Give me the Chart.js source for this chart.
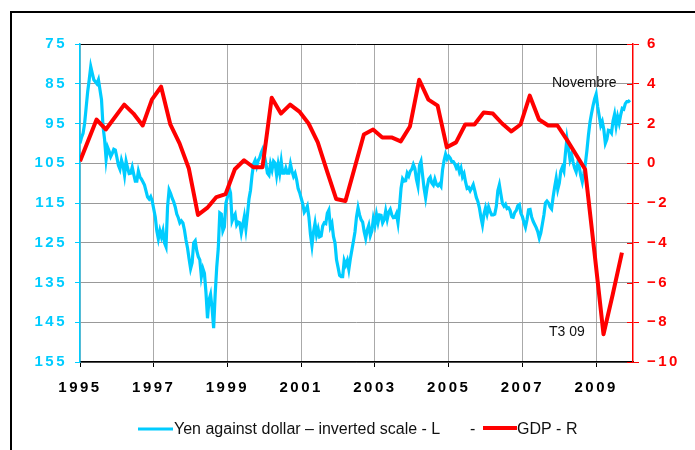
<!DOCTYPE html>
<html>
<head>
<meta charset="utf-8">
<script src="https://cdn.jsdelivr.net/npm/chart.js@4.4.0/dist/chart.umd.min.js"></script>
<style>
  html, body { margin: 0; padding: 0; background: #fff; }
</style>
</head>
<body>
<canvas id="yenChart" width="695" height="450"></canvas>
<script>
// tick labels
const yearTicks = [1995, 1997, 1999, 2001, 2003, 2005, 2007, 2009];
const yenTicks = [75, 85, 95, 105, 115, 125, 135, 145, 155];
const gdpTicks = [-10, -8, -6, -4, -2, 0, 2, 4, 6];

// yen per dollar, twice a month from Jan 1995
const yenStart = 1995;
const yenPerYear = 24;
const yenValues = [
  100, 98.5, 97.5, 95, 91, 87, 84, 80.7, 82.4, 84, 84.5, 85, 84, 86.5, 89, 95.8, 99, 104, 101, 102, 103.3, 102.5, 101.5, 101.7,
  103.5, 105.5, 106.5, 104.2, 105.5, 108, 104.5, 106.2, 107.6, 107.5, 106, 107.8, 109.5, 109.5, 107, 108.4, 109, 109.7, 110.5, 112, 113.5, 114, 113.4, 114.5,
  116.5, 118.5, 122, 124, 122, 123.5, 122, 125, 126, 116, 111.7, 112.6, 113.8, 114.7, 116, 117.8, 118.7, 120, 119.5, 120, 121.8, 124.3, 126.3, 129,
  131.5, 130, 125, 124.5, 127, 128.5, 129.3, 133.5, 131.5, 132.7, 137.5, 144, 139.4, 138, 141.5, 146.5, 138, 131.2, 126.5, 117.5, 117.8, 122, 121, 115,
  113.5, 111, 112.5, 119.5, 118.5, 117.8, 120.5, 119.8, 120, 122.5, 120.5, 118.4, 121.5, 118, 114, 111.8, 108, 105.2, 104.3, 105.8, 104.3, 103.6, 102.3, 101.4,
  103, 105, 107.5, 108, 105.2, 106.7, 104.5, 105, 108, 105.3, 107.5, 104.5, 107.5, 107.5, 106.2, 107.5, 107.5, 105.2, 107, 108.3, 107.5, 109.1, 111.4, 112.4,
  113.8, 115.2, 117.3, 116.7, 115.8, 118.5, 122.8, 125.7, 122.3, 120.1, 123, 121.5, 123.5, 123.3, 120.8, 120, 120.2, 117.6, 116.8, 121, 120.1, 123.4, 125, 129.3,
  131.2, 133.2, 133.5, 133.5, 129.5, 130.6, 129.5, 131.7, 129, 126.8, 124.6, 122.3, 118.5, 116.2, 118, 119.2, 119.8, 122.2, 123.9, 121.8, 120.6, 123.2, 122, 118.9,
  120.5, 117.9, 119.9, 118, 118.1, 120, 119.2, 117, 119.1, 117.3, 116.6, 118, 118.7, 118.6, 117.7, 120, 116, 111.3, 108.9, 109.5, 109.4, 107.5, 108.2, 107,
  106.5, 105.3, 106.3, 109, 110.7, 105.5, 104.5, 108, 111.3, 113.7, 111, 109, 108.5, 110, 110.5, 109, 110.3, 110.7, 110.2, 110.8, 106.7, 104.3, 102.7, 103.9,
  103.2, 103.7, 104.6, 104.6, 105.2, 106.2, 105.6, 107.2, 106.2, 108.4, 107.6, 109.7, 111.3, 111.1, 111.9, 111.2, 110.4, 111.9, 113.6, 114.6, 116.2, 118.6, 120.5, 117.8,
  116.2, 117.8, 116, 117.1, 118, 118, 117.8, 115.9, 111.9, 110.4, 112.8, 115.1, 115.8, 115.3, 116.4, 116.2, 116.9, 118.5, 118.6, 117.4, 116.9, 115.7, 115.4, 117.6,
  118.4, 119.9, 121.1, 119.2, 116.7, 116.6, 118.5, 119.6, 120.4, 121.2, 122.2, 123.8, 122.5, 120.3, 118, 115, 114.5, 115, 116, 116.5, 113.5, 111, 108.8, 111.6,
  110, 107, 106, 107, 102.5, 98.8, 101.3, 104.1, 102.8, 104.7, 106.2, 107.2, 105.1, 105.9, 108.1, 109.7, 107.6, 105.1, 101.8, 97.9, 94.7, 92.5, 90.5, 88.8,
  87.6, 90.8, 93.1, 95.5, 94.5, 96.5, 100, 99, 96.7, 96.8, 97.4, 94.4, 92.7, 95.6, 93.3, 94.9, 92.8, 91.2, 91.4, 90, 89.5, 89.5, 89.1
];

// GDP growth, % year on year, by quarter
const gdpDates = [
  1995.0, 1995.45, 1995.7, 1996.2, 1996.45, 1996.7, 1996.95,
  1997.2, 1997.45, 1997.7, 1997.95, 1998.2, 1998.45, 1998.7, 1998.95,
  1999.2, 1999.45, 1999.7, 1999.95, 2000.2, 2000.45, 2000.7, 2000.95,
  2001.2, 2001.45, 2001.7, 2001.95, 2002.2, 2002.7, 2002.95,
  2003.2, 2003.45, 2003.7, 2003.95, 2004.2, 2004.45, 2004.7, 2004.95,
  2005.2, 2005.45, 2005.7, 2005.95, 2006.2, 2006.45, 2006.7, 2006.95,
  2007.2, 2007.45, 2007.7, 2007.95, 2008.2, 2008.45, 2008.7, 2008.95,
  2009.2, 2009.45, 2009.7
];
const gdpValues = [
  0.1, 2.2, 1.7, 2.95, 2.5, 1.9, 3.2,
  3.85, 1.95, 1.0, -0.25, -2.6, -2.25, -1.7, -1.55,
  -0.3, 0.15, -0.2, -0.2, 3.3, 2.5, 2.95, 2.6,
  2.0, 1.05, -0.4, -1.8, -1.9, 1.45, 1.7,
  1.3, 1.3, 1.1, 1.85, 4.2, 3.2, 2.9, 0.8,
  1.05, 1.95, 1.95, 2.55, 2.5, 2.0, 1.6, 1.95,
  3.4, 2.2, 1.9, 1.9, 1.2, 0.45, -0.3, -4.4,
  -8.6, -6.6, -4.5
];

const yenColor = "#00ccff";
const gdpColor = "#ff0000";
const fontFamily = "'Liberation Sans', Arial, Helvetica, sans-serif";

const yenPoints = yenValues.map((v, i) => ({ x: yenStart + i / yenPerYear, y: v }));
const gdpPoints = gdpValues.map((v, i) => ({ x: gdpDates[i], y: v }));

const tickList = (values) => (scale) => {
  scale.ticks = values.map((v) => ({ value: v }));
};

// frame, legend, notes and the inner half of the right-hand ticks
const extras = {
  id: "extras",
  beforeDraw(chart) {
    chart.ctx.letterSpacing = "2.5px";
  },
  beforeDatasetsDraw(chart) {
    chart.ctx.letterSpacing = "0px";
  },
  afterDraw(chart) {
    const { ctx, scales } = chart;
    const gdpAxis = scales.gdp;
    ctx.save();
    ctx.letterSpacing = "0px";

    ctx.strokeStyle = gdpColor;
    ctx.lineWidth = 1;
    gdpTicks.forEach((v) => {
      const y = Math.round(gdpAxis.getPixelForValue(v)) + 0.5;
      ctx.beginPath();
      ctx.moveTo(gdpAxis.left - 6, y);
      ctx.lineTo(gdpAxis.left, y);
      ctx.stroke();
    });

    ctx.strokeStyle = "#000";
    ctx.lineWidth = 2;
    ctx.beginPath();
    ctx.moveTo(11, 452);
    ctx.lineTo(11, 12);
    ctx.lineTo(697, 12);
    ctx.stroke();

    ctx.fillStyle = "#111";
    ctx.textBaseline = "alphabetic";
    ctx.font = "14px " + fontFamily;
    ctx.fillText("Novembre", 552, 87);
    ctx.fillText("T3 09", 549, 336);

    const [gdpSet, yenSet] = chart.data.datasets;
    ctx.font = "16px " + fontFamily;
    ctx.lineCap = "butt";
    ctx.strokeStyle = yenColor;
    ctx.lineWidth = 3;
    ctx.beginPath();
    ctx.moveTo(138, 429);
    ctx.lineTo(173, 429);
    ctx.stroke();
    ctx.fillText(yenSet.label, 174, 433.5);
    ctx.fillText("-", 470, 433.5);
    ctx.strokeStyle = gdpColor;
    ctx.lineWidth = 4;
    ctx.beginPath();
    ctx.moveTo(483, 428);
    ctx.lineTo(517, 428);
    ctx.stroke();
    ctx.fillText(gdpSet.label, 517, 433.5);
    ctx.restore();
  }
};

new Chart(document.getElementById("yenChart"), {
  type: "line",
  data: {
    datasets: [
      {
        label: "GDP - R",
        data: gdpPoints,
        yAxisID: "gdp",
        borderColor: gdpColor,
        borderWidth: 4,
        borderJoinStyle: "round",
        pointRadius: 0,
        tension: 0,
        order: 0
      },
      {
        label: "Yen against dollar – inverted scale - L",
        data: yenPoints,
        yAxisID: "yen",
        borderColor: yenColor,
        borderWidth: 3.2,
        pointRadius: 0,
        tension: 0,
        order: 1
      }
    ]
  },
  options: {
    responsive: false,
    animation: false,
    layout: { padding: { top: 44, left: 0, right: 0, bottom: 0 } },
    plugins: {
      legend: { display: false },
      tooltip: { enabled: false }
    },
    scales: {
      x: {
        type: "linear",
        min: 1995,
        max: 2010,
        afterBuildTicks: tickList(yearTicks),
        afterFit: (scale) => { scale.height = 88; },
        grid: { color: "#aaaaaa", tickColor: "#000", tickLength: 5 },
        border: { color: "#000", width: 1.5 },
        ticks: {
          color: "#000",
          padding: 12,
          maxRotation: 0,
          font: { family: fontFamily, size: 15, weight: "bold" },
          callback: (v) => String(v)
        }
      },
      yen: {
        position: "left",
        reverse: true,
        min: 75,
        max: 155,
        afterBuildTicks: tickList(yenTicks),
        afterFit: (scale) => { scale.width = 80; },
        grid: {
          color: (c) => (c.tick && c.tick.value === 75 ? "#000" : "#999999"),
          tickColor: yenColor,
          tickLength: 5
        },
        border: { color: yenColor, width: 1.5 },
        ticks: {
          color: yenColor,
          padding: 8,
          font: { family: fontFamily, size: 15, weight: "bold" }
        }
      },
      gdp: {
        position: "right",
        min: -10,
        max: 6,
        afterBuildTicks: tickList(gdpTicks),
        afterFit: (scale) => { scale.width = 62; },
        grid: { drawOnChartArea: false, tickColor: gdpColor, tickLength: 6 },
        border: { color: gdpColor, width: 1.5 },
        ticks: {
          color: gdpColor,
          padding: 8,
          font: { family: fontFamily, size: 15, weight: "bold" },
          callback: (v) => (v < 0 ? "\u2212" + Math.abs(v) : String(v))
        }
      }
    }
  },
  plugins: [extras]
});
</script>
</body>
</html>
